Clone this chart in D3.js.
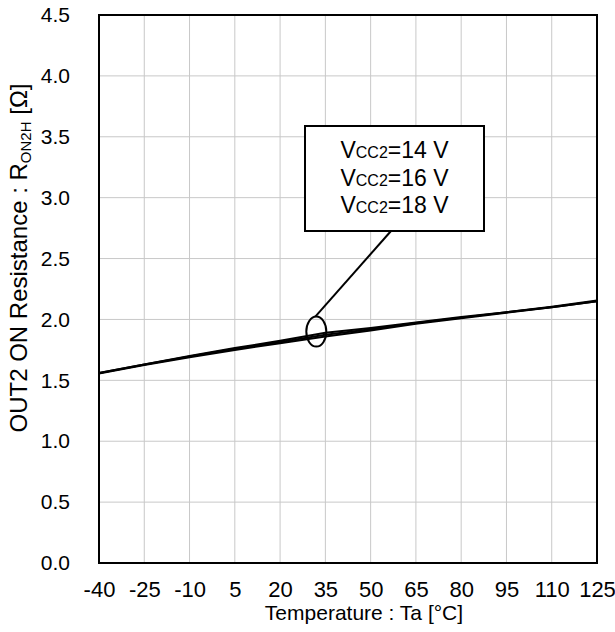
<!DOCTYPE html>
<html>
<head>
<meta charset="utf-8">
<script src="https://cdnjs.cloudflare.com/ajax/libs/d3/7.8.5/d3.min.js"></script>
<style>
  body { margin: 0; background: #fff; }
  svg { display: block; font-family: "Liberation Sans", Arial, sans-serif; }
  .grid line { stroke: #c8c8c8; stroke-width: 1; }
  .line { fill: none; stroke: #000; stroke-width: 2; }
</style>
</head>
<body>
<svg width="615" height="632"></svg>
<script>
// data
var temps = [-40, -25, -10, 5, 20, 35, 50, 65, 80, 95, 110, 125];
var vcc14 = [1.56, 1.63, 1.70, 1.765, 1.825, 1.89, 1.93, 1.975, 2.02, 2.06, 2.105, 2.155];
var vcc16 = [1.56, 1.63, 1.695, 1.76, 1.815, 1.875, 1.92, 1.97, 2.015, 2.06, 2.10, 2.15];
var vcc18 = [1.555, 1.625, 1.69, 1.75, 1.805, 1.86, 1.91, 1.965, 2.01, 2.055, 2.10, 2.15];
var seriesNames = ["14", "16", "18"];
var xTicks = temps;
var yTicks = [0, 0.5, 1, 1.5, 2, 2.5, 3, 3.5, 4, 4.5];

var svg = d3.select("svg"),
    margin = {top: 15, right: 18, bottom: 69, left: 99},
    width = +svg.attr("width") - margin.left - margin.right,
    height = +svg.attr("height") - margin.top - margin.bottom,
    g = svg.append("g").attr("transform", "translate(" + margin.left + "," + margin.top + ")");

var x = d3.scaleLinear().domain([-40, 125]).range([0, width]),
    y = d3.scaleLinear().domain([0, 4.5]).range([height, 0]);

// grid
g.append("g").attr("class", "grid")
  .selectAll("line.v").data(xTicks.slice(1, -1)).enter().append("line")
    .attr("x1", function(d) { return x(d); }).attr("x2", function(d) { return x(d); })
    .attr("y1", 0).attr("y2", height);
g.select(".grid")
  .selectAll("line.h").data(yTicks.slice(1, -1)).enter().append("line")
    .attr("x1", 0).attr("x2", width)
    .attr("y1", function(d) { return y(d); }).attr("y2", function(d) { return y(d); });

// axes (labels only, frame drawn separately)
var xAxis = g.append("g")
    .attr("transform", "translate(0," + height + ")")
    .call(d3.axisBottom(x).tickValues(xTicks).tickSize(0).tickPadding(18)
      .tickFormat(function(d) { return String(d); }));
xAxis.select(".domain").remove();
xAxis.selectAll("text").style("font-size", "22px").attr("fill", "#000")
    .attr("font-family", "Liberation Sans, Arial, sans-serif");

var yAxis = g.append("g")
    .call(d3.axisLeft(y).tickValues(yTicks).tickSize(0).tickPadding(29)
      .tickFormat(function(d) { return d.toFixed(1); }));
yAxis.select(".domain").remove();
yAxis.selectAll("text").style("font-size", "21px").attr("fill", "#000")
    .attr("font-family", "Liberation Sans, Arial, sans-serif");

// lines
var line = d3.line()
    .x(function(d) { return x(d[0]); })
    .y(function(d) { return y(d[1]); });

[vcc14, vcc16, vcc18].forEach(function(vals) {
  g.append("path")
    .attr("class", "line")
    .attr("d", line(temps.map(function(t, i) { return [t, vals[i]]; })));
});

// frame
g.append("rect")
  .attr("width", width).attr("height", height)
  .attr("fill", "none").attr("stroke", "#000").attr("stroke-width", 2);

// annotation: ellipse + leader + legend box
var ex = x(32), ey = y(1.9);
g.append("ellipse")
  .attr("cx", ex).attr("cy", ey).attr("rx", 10).attr("ry", 15)
  .attr("fill", "none").attr("stroke", "#000").attr("stroke-width", 2);

var box = {x: 305 - margin.left, y: 126 - margin.top, w: 179, h: 105};
g.append("line")
  .attr("x1", box.x + 86).attr("y1", box.y + box.h)
  .attr("x2", ex - 1).attr("y2", ey - 15)
  .attr("stroke", "#000").attr("stroke-width", 2);

g.append("rect")
  .attr("x", box.x).attr("y", box.y).attr("width", box.w).attr("height", box.h)
  .attr("fill", "#fff").attr("stroke", "#000").attr("stroke-width", 2);

seriesNames.forEach(function(v, i) {
  var t = g.append("text")
    .attr("x", box.x + box.w / 2)
    .attr("y", box.y + 32 + i * 27.5)
    .attr("text-anchor", "middle")
    .style("font-size", "23px");
  t.append("tspan").text("V");
  t.append("tspan").style("font-size", "16px").text("CC2");
  t.append("tspan").text("=" + v + " V");
});

// axis titles
svg.append("text")
  .attr("x", margin.left + width / 2 + 16)
  .attr("y", 620)
  .attr("text-anchor", "middle")
  .style("font-size", "21px")
  .text("Temperature : Ta [°C]");

var yt = svg.append("text")
  .attr("transform", "translate(27,258) rotate(-90)")
  .attr("text-anchor", "middle")
  .style("font-size", "24px");
yt.append("tspan").text("OUT2 ON Resistance : R");
yt.append("tspan").style("font-size", "15px").attr("dy", 4).text("ON2H");
yt.append("tspan").attr("dy", -4).text(" [Ω]");
</script>
</body>
</html>
